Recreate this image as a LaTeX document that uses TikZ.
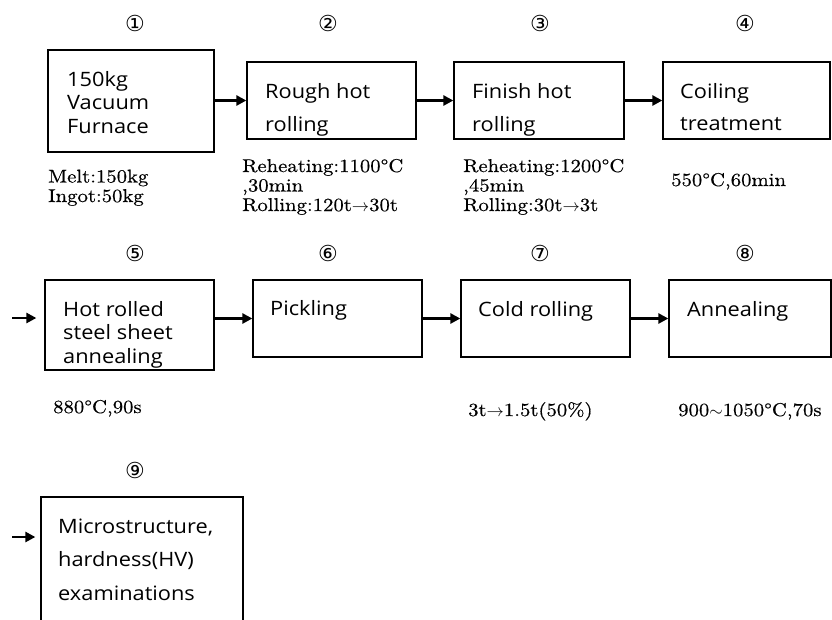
\documentclass[tikz,border=0pt]{standalone}
\usepackage{fontspec}
\newfontfamily\boxfont{Open Sans}[FakeStretch=1.1]
\newfontfamily\annfont{lmroman10-regular.otf}[FakeStretch=1.12,FakeBold=0.5]
\newfontfamily\circfont{DejaVu Sans}
\usetikzlibrary{arrows.meta}
\tikzset{
  pbox/.style={draw, line width=1.3pt, rectangle, inner sep=0pt},
  btext/.style={anchor=base west, inner sep=0pt, align=left,
    font=\boxfont\fontsize{19.8}{#1}\selectfont},
  btext/.default=23.5,
  ann/.style={anchor=base west, inner sep=0pt, align=left,
    font=\annfont\fontsize{18.5}{19.5}\selectfont},
  num/.style={inner sep=0pt, font=\circfont\fontsize{22}{22}\selectfont},
  flow/.style={line width=2.6pt, -{Triangle[length=10pt,width=10pt]}}
}
\begin{document}
\begin{tikzpicture}[x=1pt,y=-1pt]
\useasboundingbox[fill=white] (0,0) rectangle (832,619);
\clip (0,0) rectangle (832,619);
% circled numbers
\node[num] (n1) at (135,23) {①};
\node[num] (n2) at (328,23) {②};
\node[num] (n3) at (540,23) {③};
\node[num] (n4) at (745,23) {④};
\node[num] (n5) at (135,253) {⑤};
\node[num] (n6) at (328,253) {⑥};
\node[num] (n7) at (540,253) {⑦};
\node[num] (n8) at (745,253) {⑧};
\node[num] (n9) at (135,470) {⑨};
% boxes
\node[pbox, minimum width=166pt, minimum height=102pt] (b1) at (131,101) {};
\node[pbox, minimum width=169pt, minimum height=77pt] (b2) at (331.5,100.5) {};
\node[pbox, minimum width=170pt, minimum height=77pt] (b3) at (539,100.5) {};
\node[pbox, minimum width=167pt, minimum height=77pt] (b4) at (746.5,100.5) {};
\node[pbox, minimum width=169pt, minimum height=90pt] (b5) at (129.5,325) {};
\node[pbox, minimum width=169pt, minimum height=77pt] (b6) at (337.5,318.5) {};
\node[pbox, minimum width=169pt, minimum height=77pt] (b7) at (545.5,318.5) {};
\node[pbox, minimum width=162pt, minimum height=77pt] (b8) at (750,318.5) {};
\node[pbox, minimum width=202pt, minimum height=153pt] (b9) at (142,573.5) {};
% box texts (anchored at the baseline of the last line)
\node[btext] (t1) at (67,133) {150kg\\Vacuum\\Furnace};
\node[btext=33] (t2) at (265,131) {Rough hot\\rolling};
\node[btext=33] (t3) at (472,131) {Finish hot\\rolling};
\node[btext=32] (t4) at (680,130) {Coiling\\treatment};
\node[btext] (t5) at (63,363) {Hot rolled\\steel sheet\\annealing};
\node[btext] (t6) at (270,315) {Pickling};
\node[btext] (t7) at (478,316) {Cold rolling};
\node[btext] (t8) at (687,316) {Annealing};
\node[btext=33.5] (t9) at (58,600) {Microstructure,\\hardness(HV)\\examinations};
% annotations
\node[ann] (a1) at (48,202) {Melt:150kg\\Ingot:50kg};
\node[ann] (a2) at (242,211) {Reheating:1100°C\\,30min\\Rolling:120t$\rightarrow$30t};
\node[ann] (a3) at (463,211) {Reheating:1200°C\\,45min\\Rolling:30t$\rightarrow$3t};
\node[ann] (a4) at (671,186) {550°C,60min};
\node[ann] (a5) at (53,413) {880°C,90s};
\node[ann] (a7) at (468,416) {3t$\rightarrow$1.5t(50\%)};
\node[ann] (a8) at (678,416) {900$\sim$1050°C,70s};
% connectors
\coordinate (s5) at (12,318);
\coordinate (s9) at (12,537);
\draw[flow] (b1.east |- b2.west) -- (b2.west);
\draw[flow] (b2.east) -- (b3.west);
\draw[flow] (b3.east) -- (b4.west);
\draw[flow] (s5) -- ([xshift=-8pt]s5 -| b5.west);
\draw[flow] (b5.east |- b6.west) -- (b6.west);
\draw[flow] (b6.east) -- (b7.west);
\draw[flow] (b7.east) -- (b8.west);
\draw[flow] (s9) -- ([xshift=-5pt]s9 -| b9.west);
\end{tikzpicture}
\end{document}
